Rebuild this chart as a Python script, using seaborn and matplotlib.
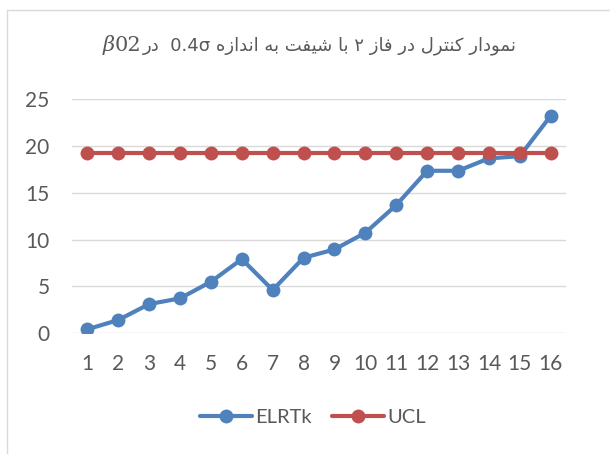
import numpy as np
import pandas as pd
import seaborn as sns
import matplotlib.pyplot as plt
from matplotlib.lines import Line2D

# =========================================================
# data
# =========================================================
samples = list(range(1, 17))
elrtk = [0.43, 1.42, 3.12, 3.73, 5.5, 7.92, 4.62, 8.06, 8.95, 10.73,
         13.68, 17.34, 17.34, 18.66, 18.9, 23.2]
ucl = [19.19] * 16
series_names = ['ELRTk', 'UCL']
y_ticks = [0, 5, 10, 15, 20, 25]

# title pieces in logical (right-to-left) order
title_words = ['نمودار', 'کنترل', 'در', 'فاز', '۲', 'با', 'شیفت', 'به', 'اندازه', '0.4σ', '', 'در']
title_beta = 'β'
title_sub = '02'

# =========================================================
# tiny arabic shaper (matplotlib has no complex text layout)
# iso, fin, ini, med ; None = right-joining letter
# =========================================================
forms = {
    'ا': ('\uFE8D', '\uFE8E', None, None),
    'د': ('\uFEA9', '\uFEAA', None, None),
    'ر': ('\uFEAD', '\uFEAE', None, None),
    'ز': ('\uFEAF', '\uFEB0', None, None),
    'و': ('\uFEED', '\uFEEE', None, None),
    'ب': ('\uFE8F', '\uFE90', '\uFE91', '\uFE92'),
    'ت': ('\uFE95', '\uFE96', '\uFE97', '\uFE98'),
    'ش': ('\uFEB5', '\uFEB6', '\uFEB7', '\uFEB8'),
    'ف': ('\uFED1', '\uFED2', '\uFED3', '\uFED4'),
    'ل': ('\uFEDD', '\uFEDE', '\uFEDF', '\uFEE0'),
    'م': ('\uFEE1', '\uFEE2', '\uFEE3', '\uFEE4'),
    'ن': ('\uFEE5', '\uFEE6', '\uFEE7', '\uFEE8'),
    'ه': ('\uFEE9', '\uFEEA', '\uFEEB', '\uFEEC'),
    'ک': ('\uFB8E', '\uFB8F', '\uFB90', '\uFB91'),
    'ی': ('\uFBFC', '\uFBFD', '\uFBFE', '\uFBFF'),
}


def shape(word):
    if not any(ch in forms for ch in word):
        return word
    out = []
    for i, ch in enumerate(word):
        if ch not in forms:
            out.append(ch)
            continue
        prev = word[i - 1] if i > 0 else None
        nxt = word[i + 1] if i + 1 < len(word) else None
        join_prev = prev in forms and forms[prev][2] is not None
        join_next = nxt in forms and forms[ch][2] is not None
        iso, fin, ini, med = forms[ch]
        if join_prev and join_next:
            out.append(med)
        elif join_prev:
            out.append(fin)
        elif join_next:
            out.append(ini)
        else:
            out.append(iso)
    return ''.join(out)[::-1]


title_visual = ' '.join(shape(w) for w in reversed(title_words))

# =========================================================
# plot
# =========================================================
df = pd.DataFrame({
    'n': samples * 2,
    'value': elrtk + ucl,
    'series': [series_names[0]] * 16 + [series_names[1]] * 16,
})

sns.set_theme(style='white')
plt.rcParams['font.family'] = ['Lato', 'DejaVu Sans']
grey = '#595959'

fig = plt.figure(figsize=(6.1, 4.54), dpi=100)
ax = fig.add_axes([0.1179, 0.2658, 0.8102, 0.5162])

sns.lineplot(data=df, x='n', y='value', hue='series', hue_order=series_names,
             palette=['#4F81BD', '#C0504D'], marker='o', markersize=10,
             markeredgewidth=0, linewidth=3, ax=ax)

ax.set_xlim(0.5, 16.5)
ax.set_ylim(0, 25)
ax.set_xticks(samples)
ax.set_yticks(y_ticks)
ax.set_xlabel('')
ax.set_ylabel('')
ax.yaxis.grid(True, color='#D9D9D9', linewidth=1)
ax.set_axisbelow(True)
for s in ax.spines.values():
    s.set_visible(False)
ax.tick_params(axis='both', length=0, labelsize=15, labelcolor=grey)
ax.tick_params(axis='y', pad=16)
ax.tick_params(axis='x', pad=15)

sns.move_legend(ax, 'center', bbox_to_anchor=(0.487, -0.36), ncol=2,
                frameon=False, title=None, fontsize=14.5, handlelength=2.6,
                columnspacing=1.0, handletextpad=0.15)
for t in ax.get_legend().get_texts():
    t.set_color(grey)

# title
main = fig.text(0.540, 0.90, title_visual, ha='center', va='center',
                fontsize=13, color=grey, family=['DejaVu Sans'])
sub = ax.annotate(title_sub, xy=(0, 0.5), xycoords=main, xytext=(-1, 0),
                  textcoords='offset points', ha='right', va='center',
                  fontsize=15, color=grey, family=['DejaVu Serif'])
ax.annotate(title_beta, xy=(0, 0.5), xycoords=sub, ha='right', va='center',
            fontsize=15, color=grey, style='italic', family=['DejaVu Serif'])

# chart frame (only top and left edges are in the crop)
fig.add_artist(Line2D([7 / 610, 7 / 610], [0, 1 - 10 / 454], color='#D9D9D9', lw=1))
fig.add_artist(Line2D([7 / 610, 1], [1 - 10 / 454, 1 - 10 / 454], color='#D9D9D9', lw=1))

fig.savefig('out.png', dpi=100)
